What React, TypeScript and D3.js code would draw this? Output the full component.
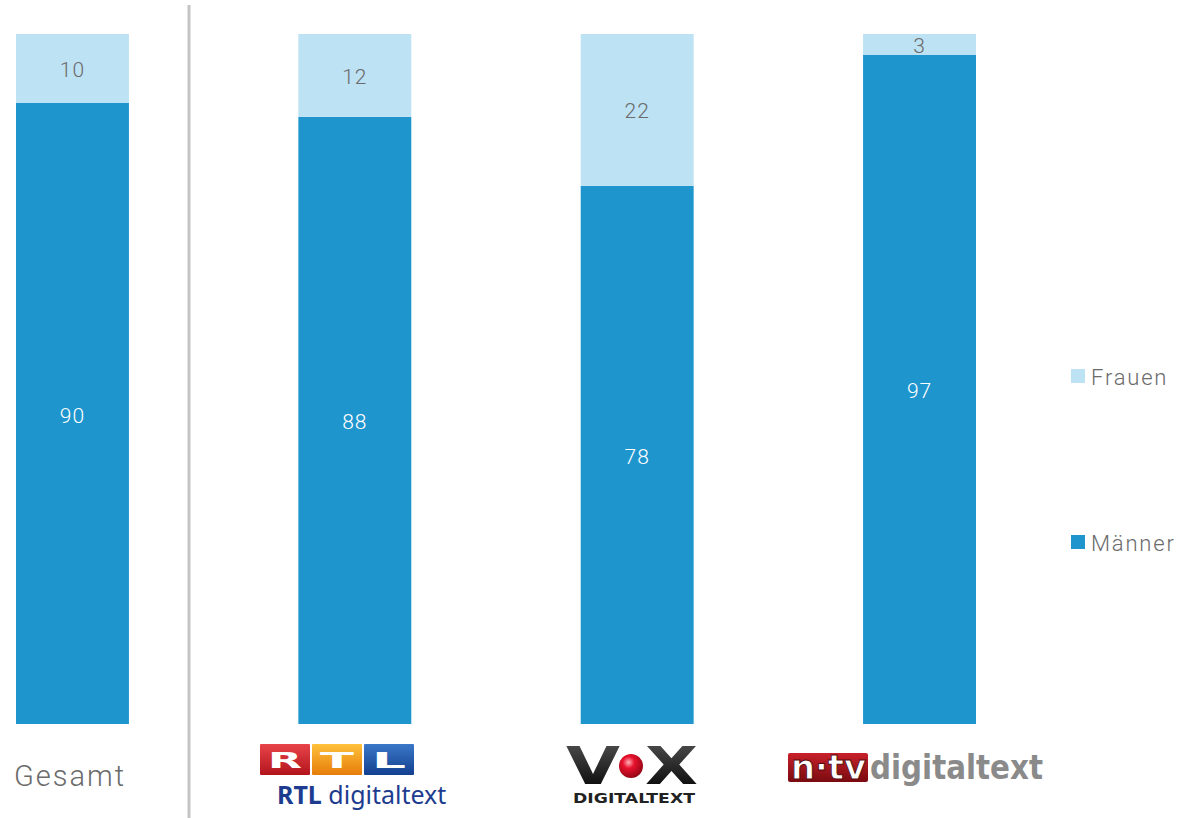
import { useMemo } from "react"
import * as d3 from "d3"

const categories = ["Gesamt", "RTL", "VOX", "n-tv"]
const maenner = [90, 88, 78, 97]
const frauen = [10, 12, 22, 3]
const seriesNames = ["Frauen", "Männer"]

const W = 1177
const H = 818
const DARK = "#1f95ce"
const LIGHT = "#bde2f4"
const TEXT = "#6b6b6b"
const FONT = "Roboto, 'Liberation Sans', sans-serif"

function RtlLogo({ x, y }: { x: number; y: number }) {
  const boxes = [
    { l: "R", c1: "#e8444a", c2: "#b3141c" },
    { l: "T", c1: "#ffc13a", c2: "#e67d0a" },
    { l: "L", c1: "#3b78c8", c2: "#133f8f" },
  ]
  return (
    <g transform={`translate(${x},${y})`}>
      <defs>
        {boxes.map((b, i) => (
          <linearGradient key={i} id={`rtl${i}`} x1="0" y1="0" x2="0" y2="1">
            <stop offset="0%" stopColor={b.c1} />
            <stop offset="100%" stopColor={b.c2} />
          </linearGradient>
        ))}
      </defs>
      {boxes.map((b, i) => (
        <g key={i} transform={`translate(${i * 52},0)`}>
          <rect width={50} height={31} fill={`url(#rtl${i})`} rx={1} />
          <text x={25} y={24} textAnchor="middle" fontFamily="'DejaVu Sans', sans-serif" fontWeight={900}
            fontSize={22} fill="#fff" textLength={34} lengthAdjust="spacingAndGlyphs">{b.l}</text>
        </g>
      ))}
      <text x={17} y={60} fontFamily="'Noto Sans', 'Open Sans', sans-serif" fontSize={25} fill="#1d3c8f">
        <tspan fontWeight={700}>RTL</tspan>
        <tspan> digitaltext</tspan>
      </text>
    </g>
  )
}

function VoxLogo({ x, y }: { x: number; y: number }) {
  return (
    <g transform={`translate(${x},${y})`}>
      <defs>
        <radialGradient id="voxball" cx="0.4" cy="0.35" r="0.7">
          <stop offset="0%" stopColor="#ffb0b8" />
          <stop offset="35%" stopColor="#e8112d" />
          <stop offset="100%" stopColor="#8c0514" />
        </radialGradient>
        <linearGradient id="voxblk" x1="0" y1="0" x2="0" y2="1">
          <stop offset="0%" stopColor="#555" />
          <stop offset="100%" stopColor="#000" />
        </linearGradient>
      </defs>
      <text x={-1} y={40} fontFamily="'DejaVu Sans', sans-serif" fontWeight={900} fontSize={52}
        fill="url(#voxblk)" textLength={54} lengthAdjust="spacingAndGlyphs">V</text>
      <circle cx={64} cy={22} r={12} fill="url(#voxball)" />
      <text x={78} y={40} fontFamily="'DejaVu Sans', sans-serif" fontWeight={900} fontSize={52}
        fill="url(#voxblk)" textLength={53} lengthAdjust="spacingAndGlyphs">X</text>
      <text x={6} y={59} fontFamily="'DejaVu Sans', sans-serif" fontWeight={700} fontSize={14}
        fill="#222" textLength={122} lengthAdjust="spacingAndGlyphs">DIGITALTEXT</text>
    </g>
  )
}

function NtvLogo({ x, y }: { x: number; y: number }) {
  return (
    <g transform={`translate(${x},${y})`}>
      <defs>
        <linearGradient id="ntvred" x1="0" y1="0" x2="0" y2="1">
          <stop offset="0%" stopColor="#c8202a" />
          <stop offset="100%" stopColor="#7a0a10" />
        </linearGradient>
      </defs>
      <rect x={0} y={4} width={80} height={29} rx={2} fill="url(#ntvred)" />
      <text x={3} y={30} fontFamily="'DejaVu Sans', sans-serif" fontWeight={900} fontSize={34}
        fill="#fff" stroke="#5a0a0e" strokeWidth={1} textLength={75} lengthAdjust="spacingAndGlyphs">n·tv</text>
      <text x={82} y={30} fontFamily="'DejaVu Sans', sans-serif" fontWeight={700} fontSize={33}
        fill="#8a8a8a" textLength={173} lengthAdjust="spacingAndGlyphs">digitaltext</text>
    </g>
  )
}

export default function App() {
  const x = useMemo(() => d3.scaleBand<string>().domain(categories).range([16, 976]).paddingInner(0.6).paddingOuter(0), [])
  const y = useMemo(() => d3.scaleLinear().domain([0, 100]).range([724, 34]), [])
  const bw = x.bandwidth()

  return (
    <svg width={W} height={H} style={{ position: "absolute", left: 0, top: 0, background: "#fff" }}
      fontFamily={FONT}>
      {categories.map((c, i) => {
        const x0 = x(c) as number
        const m = maenner[i]
        const f = frauen[i]
        return (
          <g key={c}>
            <rect x={x0} y={y(m)} width={bw} height={y(0) - y(m)} fill={DARK} />
            <rect x={x0} y={y(m + f)} width={bw} height={y(m) - y(m + f)} fill={LIGHT} />
            <text x={x0 + bw / 2} y={(y(0) + y(m)) / 2 + 2} textAnchor="middle" dominantBaseline="central"
              fontSize={21} fontWeight={300} letterSpacing={1} fill="#fff">{m}</text>
            <text x={x0 + bw / 2} y={(y(m) + y(m + f)) / 2 + 1.5} textAnchor="middle" dominantBaseline="central"
              fontSize={21} fontWeight={300} letterSpacing={1} fill={TEXT}>{f}</text>
          </g>
        )
      })}

      <line x1={189} x2={189} y1={5} y2={H} stroke="#c4c4c4" strokeWidth={3} />

      <text x={14} y={786} fontSize={29} fontWeight={300} letterSpacing={2} fill={TEXT}>Gesamt</text>
      <RtlLogo x={260} y={744} />
      <VoxLogo x={567} y={744} />
      <NtvLogo x={788} y={749} />

      {seriesNames.map((s, i) => {
        const cy = i === 0 ? 376 : 542
        return (
          <g key={s}>
            <rect x={1071} y={cy - 7} width={14} height={14} fill={i === 0 ? LIGHT : DARK} />
            <text x={1091} y={cy + 1} dominantBaseline="central" fontSize={22} fontWeight={300}
              letterSpacing={1.8} fill={TEXT}>{s}</text>
          </g>
        )
      })}
    </svg>
  )
}
